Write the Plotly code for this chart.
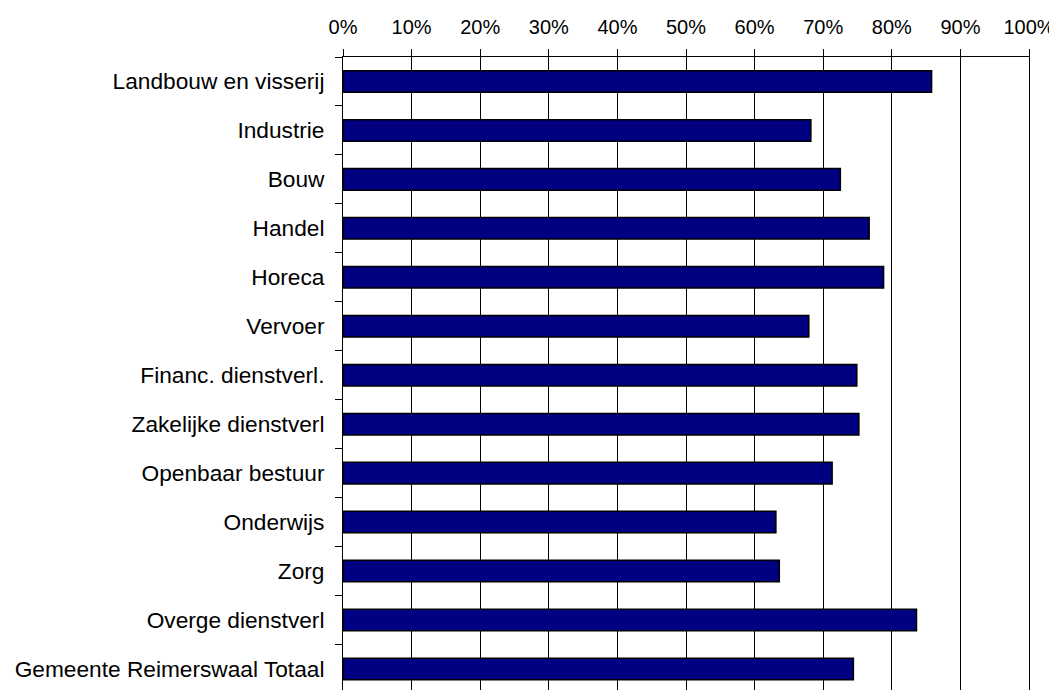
import plotly.graph_objects as go

categories = [
    "Landbouw en visserij", "Industrie", "Bouw", "Handel", "Horeca", "Vervoer",
    "Financ. dienstverl.", "Zakelijke dienstverl", "Openbaar bestuur", "Onderwijs",
    "Zorg", "Overge dienstverl", "Gemeente Reimerswaal Totaal",
]
values = [0.858, 0.682, 0.725, 0.767, 0.788, 0.679, 0.749, 0.752, 0.713, 0.631,
          0.636, 0.836, 0.744]
x_ticks = [i / 10 for i in range(11)]
x_tick_labels = [f"{i * 10}%" for i in range(11)]

fig = go.Figure(go.Bar(
    y=categories, x=values, orientation="h", width=0.44,
    marker=dict(color="#000080", line=dict(color="#000000", width=1.5)),
    hoverinfo="x+y",
))

# page body has an 8px default margin: compensate so the plot lands where the reference has it
fig.update_layout(
    width=1049, height=682,
    margin=dict(l=335, r=28, t=49, b=0, autoexpand=False),
    paper_bgcolor="white", plot_bgcolor="white",
    showlegend=False,
    font=dict(family="Liberation Sans, Arial, sans-serif", color="black"),
    xaxis=dict(
        side="top", range=[0, 1], tickvals=x_ticks, ticktext=x_tick_labels,
        showgrid=True, gridcolor="#000000", gridwidth=1,
        showline=True, linecolor="#000000", linewidth=1,
        ticks="outside", ticklen=7, tickcolor="#000000",
        tickfont=dict(size=20), zeroline=False, ticklabelstandoff=7,
        automargin=False,
    ),
    yaxis=dict(
        type="category", categoryorder="array", categoryarray=categories,
        range=[12.43, -0.5],
        showgrid=False, showline=True, linecolor="#000000", linewidth=1,
        mirror=True,
        ticks="outside", ticklen=7, tickcolor="#000000", tickson="boundaries",
        tickfont=dict(size=22.7), ticklabelstandoff=13, automargin=False,
    ),
)

fig.write_html("out.html")
